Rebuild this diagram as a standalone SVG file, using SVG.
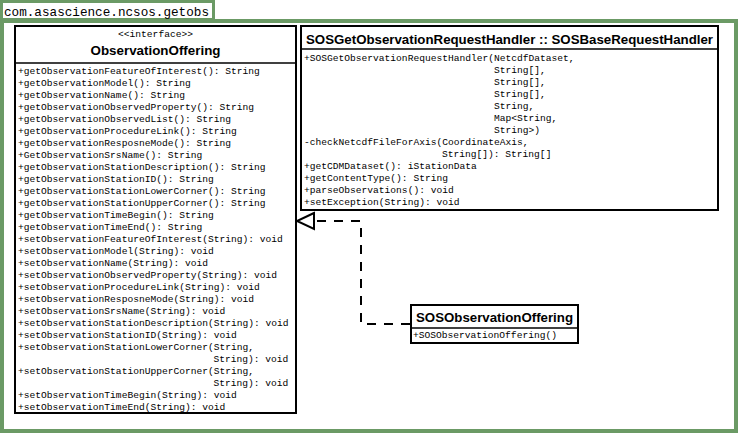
<svg xmlns="http://www.w3.org/2000/svg" width="738" height="433" viewBox="0 0 738 433">
<style>
.box{fill:#fff;stroke:#000;stroke-width:2}
.sep{stroke:#000;stroke-width:1.5}
.m{font-family:"Liberation Mono","Courier New",monospace;font-size:9.6px;fill:#000}
.t{font-family:"Liberation Sans",Arial,sans-serif;font-weight:bold;fill:#000}
.conn{fill:none;stroke:#000;stroke-width:2;stroke-dasharray:9,8}
</style>
<g id="package">
<rect x="0" y="0" width="215" height="22" fill="#6B9A65"/>
<rect x="3" y="3" width="209" height="15" fill="#fff"/>
<rect x="0" y="19" width="738" height="414" fill="#6B9A65"/>
<rect x="4" y="23" width="730" height="406" fill="#fff"/>
<text x="4" y="15.5" font-family="Liberation Mono, Courier New, monospace" font-size="12.6" textLength="205" lengthAdjust="spacingAndGlyphs">com.asascience.ncsos.getobs</text>
</g>
<g id="connectors">
<path class="conn" d="M410,324 H361 V221 H314"/>
<polygon points="314,213 297,221 314,229" fill="#fff" stroke="#000" stroke-width="2"/>
</g>
<g id="ObservationOffering">
<rect class="box" x="15" y="26" width="281" height="387"/>
<line class="sep" x1="15" y1="63" x2="296" y2="63"/>
<text class="m" x="155.5" y="37" text-anchor="middle">&lt;&lt;interface&gt;&gt;</text>
<text class="t" x="155.5" y="55" font-size="13.5" text-anchor="middle" textLength="130" lengthAdjust="spacingAndGlyphs">ObservationOffering</text>
<text class="m" x="18" y="74">+getObservationFeatureOfInterest(): String</text>
<text class="m" x="18" y="86">+getObservationModel(): String</text>
<text class="m" x="18" y="98">+getObservationName(): String</text>
<text class="m" x="18" y="110">+getObservationObservedProperty(): String</text>
<text class="m" x="18" y="122">+getObservationObservedList(): String</text>
<text class="m" x="18" y="134">+getObservationProcedureLink(): String</text>
<text class="m" x="18" y="146">+getObservationResposneMode(): String</text>
<text class="m" x="18" y="158">+GetObservationSrsName(): String</text>
<text class="m" x="18" y="170">+getObservationStationDescription(): String</text>
<text class="m" x="18" y="182">+getObservationStationID(): String</text>
<text class="m" x="18" y="194">+getObservationStationLowerCorner(): String</text>
<text class="m" x="18" y="206">+getObservationStationUpperCorner(): String</text>
<text class="m" x="18" y="218">+getObservationTimeBegin(): String</text>
<text class="m" x="18" y="230">+getObservationTimeEnd(): String</text>
<text class="m" x="18" y="242">+setObservationFeatureOfInterest(String): void</text>
<text class="m" x="18" y="254">+setObservationModel(String): void</text>
<text class="m" x="18" y="266">+setObservationName(String): void</text>
<text class="m" x="18" y="278">+setObservationObservedProperty(String): void</text>
<text class="m" x="18" y="290">+setObservationProcedureLink(String): void</text>
<text class="m" x="18" y="302">+setObservationResposneMode(String): void</text>
<text class="m" x="18" y="314">+setObservationSrsName(String): void</text>
<text class="m" x="18" y="326">+setObservationStationDescription(String): void</text>
<text class="m" x="18" y="338">+setObservationStationID(String): void</text>
<text class="m" x="18" y="350">+setObservationStationLowerCorner(String,</text>
<text class="m" x="213.5" y="362">String): void</text>
<text class="m" x="18" y="374">+setObservationStationUpperCorner(String,</text>
<text class="m" x="213.5" y="386">String): void</text>
<text class="m" x="18" y="398">+setObservationTimeBegin(String): void</text>
<text class="m" x="18" y="410">+setObservationTimeEnd(String): void</text>
</g>
<g id="SOSGetObservationRequestHandler">
<rect class="box" x="301" y="26" width="417" height="184"/>
<line class="sep" x1="301" y1="49" x2="718" y2="49"/>
<text class="t" x="509.5" y="44" font-size="12.5" text-anchor="middle" textLength="407" lengthAdjust="spacingAndGlyphs">SOSGetObservationRequestHandler :: SOSBaseRequestHandler</text>
<text class="m" x="304" y="61">+SOSGetObservationRequestHandler(NetcdfDataset,</text>
<text class="m" x="494" y="73">String[],</text>
<text class="m" x="494" y="85">String[],</text>
<text class="m" x="494" y="97">String[],</text>
<text class="m" x="494" y="109">String,</text>
<text class="m" x="494" y="121">Map&lt;String,</text>
<text class="m" x="494" y="133">String&gt;)</text>
<text class="m" x="304" y="145">-checkNetcdfFileForAxis(CoordinateAxis,</text>
<text class="m" x="442" y="157">String[]): String[]</text>
<text class="m" x="304" y="169">+getCDMDataset(): iStationData</text>
<text class="m" x="304" y="181">+getContentType(): String</text>
<text class="m" x="304" y="193">+parseObservations(): void</text>
<text class="m" x="304" y="205">+setException(String): void</text>
</g>
<g id="SOSObservationOffering">
<rect class="box" x="411" y="305" width="167" height="38"/>
<line class="sep" x1="411" y1="328" x2="578" y2="328"/>
<text class="t" x="494.5" y="322" font-size="13.3" text-anchor="middle" textLength="157" lengthAdjust="spacingAndGlyphs">SOSObservationOffering</text>
<text class="m" x="413" y="338">+SOSObservationOffering()</text>
</g>
</svg>
